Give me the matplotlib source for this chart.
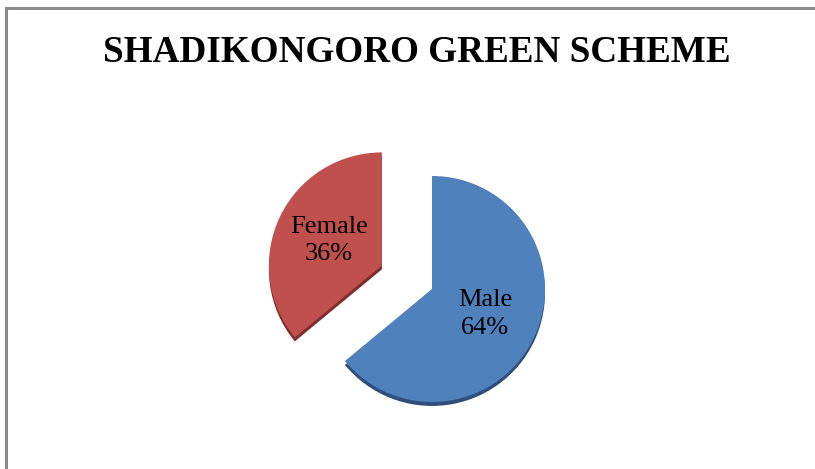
import matplotlib.pyplot as plt
from matplotlib.patches import Rectangle

# data
labels = ["Male", "Female"]
shares = [64, 36]
colors = ["#4F81BD", "#C0504D"]
rim_colors = ["#2F4F7A", "#7E2F2D"]
explode = [0.0, 0.49]

title = "SHADIKONGORO GREEN SCHEME"

W, H = 815, 469
fig = plt.figure(figsize=(W / 100, H / 100), dpi=100)
fig.patch.set_facecolor("white")

# outer frame (only top and left visible in the original crop)
fig.patches.append(Rectangle((6 / W, -0.2), 1.3, 1.2 - 8 / H,
                             transform=fig.transFigure, fill=False,
                             edgecolor="#8C8C8C", linewidth=2.2))

ax = fig.add_axes([0, 0, 1, 1])

# darker rim under the pie for a slight 3D look
ax.pie(shares, explode=explode, colors=rim_colors, startangle=90,
       counterclock=False, center=(0.0, -0.035), radius=1.0,
       wedgeprops=dict(linewidth=0))

wedges, _, texts = ax.pie(
    shares, explode=explode, colors=colors, startangle=90,
    counterclock=False, radius=1.0,
    autopct=lambda p: "",
    pctdistance=0.52,
    wedgeprops=dict(linewidth=0))

for t, lab, val in zip(texts, labels, shares):
    t.set_text(f"{lab}\n{val}%")
    t.set_fontfamily("Liberation Serif")
    t.set_fontsize(19)
    t.set_color("black")
    t.set_linespacing(1.3)

# place the pie: centre at (432, 289) px from top-left, radius ~113 px
r_px = 113.0
cx, cy = 432.0, H - 289.0
ax.set_xlim(-cx / r_px, (W - cx) / r_px)
ax.set_ylim(-cy / r_px, (H - cy) / r_px)
ax.axis("off")

fig.text(417 / W, 1 - 52 / H, title, ha="center", va="center",
         fontfamily="Liberation Serif", fontweight="bold", fontsize=26.7)

fig.savefig("out.png", dpi=100)
